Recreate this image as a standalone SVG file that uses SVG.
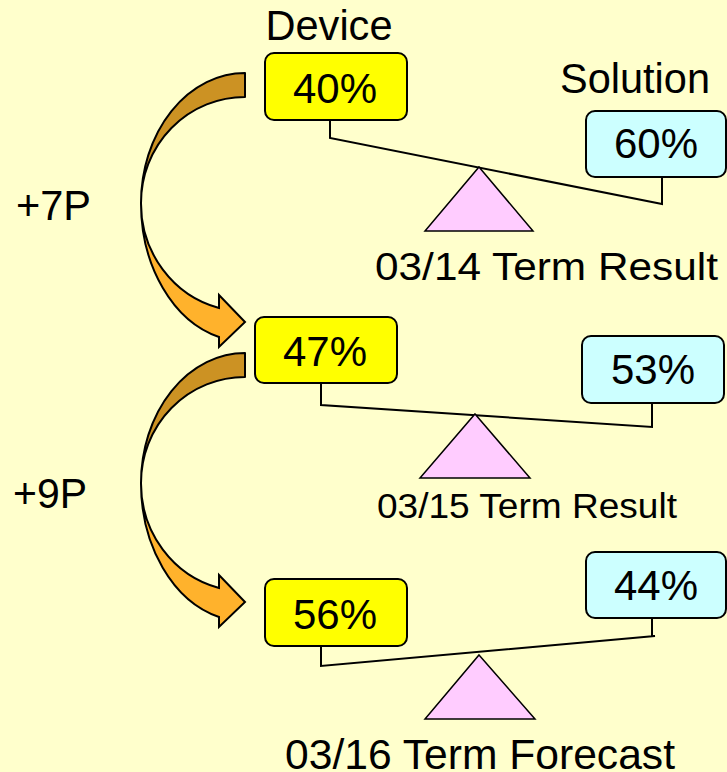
<svg xmlns="http://www.w3.org/2000/svg" width="727" height="772" viewBox="0 0 727 772">
<defs>
<style>
text{font-family:"Liberation Sans",Arial,sans-serif;fill:#000}
.lbl{font-size:42px}
.pct{font-size:42px;text-anchor:middle}
.dev{fill:#FFFF00;stroke:#000;stroke-width:2}
.sol{fill:#CCFFFF;stroke:#000;stroke-width:2}
.tri{fill:#FFCCFF;stroke:#000;stroke-width:1.5}
.beam{fill:none;stroke:#000;stroke-width:2}
.back{fill:#CC9223;stroke:#000;stroke-width:2;stroke-linejoin:round}
.front{fill:#FFB22C;stroke:#000;stroke-width:2;stroke-linejoin:miter}
</style>
<g id="curvedArrow">
<path class="back" d="M245,73 A104,130 0 0,0 141,203 A104,106 0 0,1 245,97 Z"/>
<path class="front" d="M141,203 A104,138 0 0,0 219,337 L219,347 L245,322 L219,295 L219,308 A104,108 0 0,1 141,203 Z"/>
</g>
</defs>
<rect x="0" y="0" width="727" height="772" fill="#FFFFCC"/>

<g id="connectors">
<polyline class="beam" points="330,120 330,138 662,204 662,177"/>
<polyline class="beam" points="321,383 321,405 652,427 652,403"/>
<polyline class="beam" points="321,646 321,666 655,636 652,636 652,618"/>
<use id="arrow1" href="#curvedArrow"/>
<use id="arrow2" href="#curvedArrow" transform="translate(0,280)"/>
</g>

<g id="labels">
<text class="pct" x="329" y="40" textLength="127" lengthAdjust="spacingAndGlyphs">Device</text>
<text class="pct" x="635" y="93" textLength="150" lengthAdjust="spacingAndGlyphs">Solution</text>
<text class="lbl" x="16" y="220" textLength="75" lengthAdjust="spacingAndGlyphs">+7P</text>
<text class="lbl" x="13" y="508" textLength="74" lengthAdjust="spacingAndGlyphs">+9P</text>
</g>

<g id="fulcrum1">
<polygon class="tri" points="479,167 533,231 425,231"/>
<text class="pct" x="546.5" y="280" style="font-size:39px" textLength="343" lengthAdjust="spacingAndGlyphs">03/14 Term Result</text>
</g>
<g id="fulcrum2">
<polygon class="tri" points="475,414 530,478 420,478"/>
<text class="pct" x="527" y="518" style="font-size:35px" textLength="300" lengthAdjust="spacingAndGlyphs">03/15 Term Result</text>
</g>
<g id="fulcrum3">
<polygon class="tri" points="479,655 535,719 425,719"/>
<text class="pct" x="480" y="769" textLength="390" lengthAdjust="spacingAndGlyphs">03/16 Term Forecast</text>
</g>

<g id="device1"><rect class="dev" x="265" y="53" width="142" height="67" rx="9"/><text class="pct" x="335" y="103">40%</text></g>
<g id="solution1"><rect class="sol" x="586" y="111" width="140" height="66" rx="9"/><text class="pct" x="656" y="158">60%</text></g>
<g id="device2"><rect class="dev" x="255" y="317" width="142" height="66" rx="9"/><text class="pct" x="325" y="366">47%</text></g>
<g id="solution2"><rect class="sol" x="582" y="336" width="142" height="67" rx="9"/><text class="pct" x="653" y="384">53%</text></g>
<g id="device3"><rect class="dev" x="265" y="579" width="142" height="67" rx="9"/><text class="pct" x="335" y="629">56%</text></g>
<g id="solution3"><rect class="sol" x="586" y="552" width="140" height="66" rx="9"/><text class="pct" x="656" y="600">44%</text></g>
</svg>
